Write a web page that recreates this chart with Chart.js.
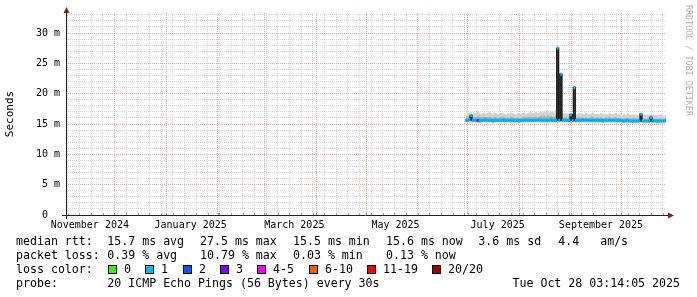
<!DOCTYPE html>
<html>
<head>
<meta charset="utf-8">
<script src="https://cdn.jsdelivr.net/npm/chart.js@4.4.1/dist/chart.umd.min.js"></script>
<style>
  html, body { margin: 0; padding: 0; background: #fff; }
</style>
</head>
<body>
<canvas id="smokeGraph" width="697" height="297"></canvas>
<script>
// x axis is in days, day 0 = 2 Nov 2024, graph covers 360 days up to 28 Oct 2025
const startDate = Date.UTC(2024, 10, 2);
const spanDays = 360;
const firstDay = 240; // first day with data (29 Jun 2025)

const xLabels = ['November 2024', 'January 2025', 'March 2025', 'May 2025', 'July 2025', 'September 2025'];
const xLabelDays = [14.3, 74.8, 137, 197.7, 259, 321];

const yMax = 33.3;

// median rtt in ms, one value per day from firstDay
const median = [
    15.6, 15.6, 15.7, 16.4, 15.6, 15.6, 15.6, 15.6, 15.5, 15.6,
    15.6, 15.6, 15.7, 15.6, 15.6, 15.6, 15.5, 15.6, 15.6, 15.6,
    15.6, 15.6, 15.6, 15.7, 15.6, 15.6, 15.6, 15.6, 15.6, 15.5,
    15.6, 15.6, 15.5, 15.6, 15.6, 15.6, 15.7, 15.6, 15.6, 15.6,
    15.6, 15.6, 15.6, 15.6, 15.7, 15.6, 15.6, 15.6, 15.6, 15.6,
    15.6, 15.7, 15.6, 15.6, 15.6, 27.5, 15.6, 23.2, 15.6, 15.6,
    15.6, 15.6, 15.6, 16.5, 15.6, 21.0, 15.6, 15.6, 15.6, 15.6,
    15.7, 15.6, 15.6, 15.6, 15.6, 15.6, 15.6, 15.6, 15.6, 15.6,
    15.6, 15.6, 15.5, 15.6, 15.6, 15.6, 15.6, 15.6, 15.6, 15.6,
    15.6, 15.6, 15.6, 15.6, 15.5, 15.5, 15.5, 15.6, 15.5, 15.5,
    15.5, 15.5, 15.5, 15.5, 15.5, 16.6, 15.5, 15.5, 15.5, 15.5,
    15.5, 16.1, 15.5, 15.5, 15.5, 15.5, 15.5, 15.5, 15.5, 15.5, 15.6
];

// smoke: outer upper edge, inner upper edge, lower edge (ms)
const smokeHi = [
    16.5, 16.9, 16.8, 17.0, 16.7, 16.9, 16.8, 17.2, 16.9, 16.7,
    16.8, 16.9, 16.7, 16.8, 17.0, 16.8, 16.7, 16.9, 16.8, 16.6,
    16.7, 16.8, 16.9, 16.7, 16.6, 16.8, 16.7, 16.9, 16.8, 16.7,
    16.6, 16.8, 16.7, 16.6, 16.8, 16.9, 16.7, 16.8, 16.9, 17.0,
    16.8, 16.9, 17.0, 16.8, 16.9, 17.1, 16.9, 17.2, 17.0, 17.3,
    16.9, 17.1, 17.0, 16.9, 17.4, 17.2, 16.9, 17.1, 16.8, 16.7,
    16.8, 16.7, 16.9, 16.8, 16.7, 16.8, 16.6, 16.7, 16.8, 16.6,
    16.7, 16.6, 16.8, 16.7, 16.6, 16.7, 16.9, 16.7, 16.6, 16.7,
    16.6, 16.8, 16.7, 16.6, 16.7, 16.6, 16.9, 16.7, 16.6, 16.7,
    16.8, 16.6, 16.7, 16.6, 16.5, 16.6, 16.5, 16.7, 16.6, 16.5,
    16.6, 16.5, 16.6, 16.5, 16.6, 16.8, 16.5, 16.6, 16.5, 16.6,
    16.5, 16.6, 16.5, 16.6, 16.5, 16.4, 16.5, 16.6, 16.5, 16.4, 16.5
];
const smokeMid = [
    16.0, 16.2, 16.1, 16.4, 16.1, 16.2, 16.1, 16.3, 16.2, 16.1,
    16.1, 16.2, 16.1, 16.1, 16.2, 16.1, 16.0, 16.2, 16.1, 16.0,
    16.1, 16.1, 16.2, 16.1, 16.0, 16.1, 16.0, 16.2, 16.1, 16.0,
    16.0, 16.1, 16.0, 16.0, 16.1, 16.2, 16.1, 16.1, 16.2, 16.2,
    16.1, 16.2, 16.2, 16.1, 16.2, 16.3, 16.2, 16.3, 16.2, 16.4,
    16.2, 16.3, 16.2, 16.2, 16.4, 16.3, 16.2, 16.3, 16.1, 16.1,
    16.1, 16.0, 16.2, 16.1, 16.0, 16.1, 16.0, 16.1, 16.1, 16.0,
    16.1, 16.0, 16.1, 16.0, 16.0, 16.1, 16.2, 16.0, 16.0, 16.1,
    16.0, 16.1, 16.0, 16.0, 16.1, 16.0, 16.2, 16.0, 16.0, 16.1,
    16.1, 16.0, 16.0, 15.9, 15.9, 16.0, 15.9, 16.0, 15.9, 15.9,
    16.0, 15.9, 15.9, 15.9, 16.0, 16.1, 15.9, 15.9, 15.9, 15.9,
    15.9, 16.0, 15.9, 15.9, 15.9, 15.8, 15.9, 15.9, 15.9, 15.8, 15.9
];
const smokeLo = [
    15.2, 15.2, 15.3, 15.2, 15.2, 15.3, 15.2, 15.2, 15.1, 15.2,
    15.2, 15.3, 15.2, 15.2, 15.2, 15.2, 15.1, 15.2, 15.2, 15.3,
    15.2, 15.2, 15.3, 15.2, 15.2, 15.2, 15.2, 15.1, 15.2, 15.2,
    15.2, 15.1, 15.0, 15.2, 15.2, 15.3, 15.2, 15.2, 15.2, 15.2,
    15.2, 15.2, 15.3, 15.2, 15.2, 15.2, 15.2, 15.2, 15.3, 15.2,
    15.2, 15.3, 15.2, 15.2, 15.2, 15.2, 15.2, 15.2, 15.2, 15.2,
    15.2, 15.2, 15.2, 15.2, 15.2, 15.2, 15.2, 15.2, 15.2, 15.3,
    15.3, 15.2, 15.2, 15.2, 15.2, 15.2, 15.2, 15.2, 15.2, 15.2,
    15.2, 15.2, 15.1, 15.2, 15.2, 15.2, 15.2, 15.2, 15.2, 15.2,
    15.2, 15.2, 15.2, 15.2, 15.1, 15.1, 15.1, 15.2, 15.1, 15.1,
    15.1, 15.1, 15.1, 15.1, 15.1, 15.2, 15.1, 15.1, 15.1, 15.1,
    15.1, 15.2, 15.1, 15.1, 15.1, 15.1, 15.1, 15.1, 15.1, 15.1, 15.2
];

// packet loss in % per day
const lossPct = [
    0.45, 0.30, 0.25, 0.60, 0.35, 0.20, 0.40, 10.79, 0.50, 0.30,
    0.25, 0.35, 0.40, 0.30, 0.20, 0.45, 0.30, 0.25, 0.35, 0.40,
    0.30, 0.55, 0.25, 0.35, 0.40, 0.30, 0.20, 0.45, 0.35, 0.30,
    0.25, 0.40, 0.60, 0.30, 0.35, 0.25, 0.40, 0.30, 0.45, 0.35,
    0.30, 0.25, 0.40, 0.35, 0.30, 0.50, 0.25, 0.40, 0.35, 0.45,
    0.30, 0.40, 0.35, 0.25, 0.50, 0.90, 0.30, 0.70, 0.35, 0.30,
    0.25, 0.30, 0.40, 0.45, 0.30, 0.65, 0.25, 0.35, 0.30, 0.40,
    0.35, 0.30, 0.25, 0.40, 0.30, 0.35, 0.45, 0.30, 0.25, 0.35,
    0.40, 0.30, 0.25, 0.35, 0.30, 0.40, 0.50, 0.30, 0.25, 0.35,
    0.30, 0.25, 0.35, 0.30, 0.20, 0.25, 0.30, 0.35, 0.25, 0.20,
    0.30, 0.25, 0.20, 0.30, 0.25, 0.45, 0.20, 0.25, 0.30, 0.20,
    0.25, 0.40, 0.20, 0.25, 0.30, 0.20, 0.15, 0.25, 0.20, 0.15, 0.13
];

const lossNames = ['0', '1', '2', '3', '4-5', '6-10', '11-19', '20/20'];
const lossColors = ['#26ff00', '#00b8ff', '#0059ff', '#7e00ff', '#ff00ff', '#ff5500', '#ff0000', '#a10000'];
const lossUpper = [0, 1, 2, 3, 5, 10, 19, 20]; // lost pings out of 20

const statsRtt = ['15.7 ms avg', '27.5 ms max', '15.5 ms min', '15.6 ms now', '3.6 ms sd', '4.4   am/s'];
const statsLoss = ['0.39 % avg', '10.79 % max', '0.03 % min', '0.13 % now'];
const probeText = '20 ICMP Echo Pings (56 Bytes) every 30s';
const stampText = 'Tue Oct 28 03:14:05 2025';

const minorGrid = 'rgba(200,200,200,0.7)';
const majorGrid = 'rgba(240,130,130,0.7)';
const mono = 'DejaVu Sans Mono';

function dayOf(y, m, d) {
    return (Date.UTC(y, m, d) - startDate) / 86400000;
}

function lossClass(p) {
    const lost = p / 100 * 20;
    for (let i = 0; i < lossUpper.length; i++) {
        if (lost <= lossUpper[i]) return i;
    }
    return lossUpper.length - 1;
}

const pts = arr => arr.map((v, i) => ({ x: firstDay + i, y: v }));

// month starts (major grid) and sundays (minor grid)
const monthDays = [];
for (let m = 10; ; m++) {
    const d = dayOf(2024, m, 1);
    if (d > spanDays) break;
    if (d >= 0) monthDays.push(d);
}
const xTicks = [];
for (let d = dayOf(2024, 10, 3); d <= spanDays; d += 7) {
    if (!monthDays.includes(d)) xTicks.push({ value: d, kind: 'minor' });
}
monthDays.forEach(d => xTicks.push({ value: d, kind: 'major' }));
xLabelDays.forEach((d, i) => xTicks.push({ value: d, kind: 'label', text: xLabels[i] }));
xTicks.sort((a, b) => a.value - b.value);

const rrdDecor = {
    id: 'rrdDecor',
    afterDraw(chart) {
        const ctx = chart.ctx;
        const a = chart.chartArea;
        const xs = chart.scales.x;
        ctx.save();

        // small tick marks at the bottom edge
        ctx.lineWidth = 1;
        xs.ticks.forEach(t => {
            if (t.kind === 'label') return;
            const px = Math.round(xs.getPixelForValue(t.value)) + 0.5;
            ctx.strokeStyle = t.kind === 'major' ? 'rgba(220,100,100,0.9)' : 'rgba(150,150,150,0.9)';
            ctx.beginPath();
            ctx.moveTo(px, a.bottom - 2);
            ctx.lineTo(px, a.bottom);
            ctx.stroke();
        });

        // axes
        ctx.strokeStyle = '#202020';
        ctx.beginPath();
        ctx.moveTo(a.left - 4, a.bottom + 0.5);
        ctx.lineTo(a.right + 3, a.bottom + 0.5);
        ctx.moveTo(a.left + 0.5, a.bottom + 4);
        ctx.lineTo(a.left + 0.5, a.top - 3);
        ctx.stroke();

        // arrows
        ctx.fillStyle = '#8b1c1c';
        ctx.beginPath();
        ctx.moveTo(a.left + 0.5, a.top - 6);
        ctx.lineTo(a.left - 2.5, a.top);
        ctx.lineTo(a.left + 3.5, a.top);
        ctx.closePath();
        ctx.fill();
        ctx.beginPath();
        ctx.moveTo(a.right + 8, a.bottom + 0.5);
        ctx.lineTo(a.right + 2, a.bottom - 2.5);
        ctx.lineTo(a.right + 2, a.bottom + 3.5);
        ctx.closePath();
        ctx.fill();

        // watermark
        ctx.save();
        ctx.translate(688, 5);
        ctx.rotate(Math.PI / 2);
        ctx.font = '8.4px "' + mono + '"';
        ctx.fillStyle = '#b4b4b4';
        ctx.textBaseline = 'middle';
        ctx.textAlign = 'left';
        ctx.fillText('RRDTOOL / TOBI OETIKER', 0, 0);
        ctx.restore();

        // legend rows
        ctx.font = '11.6px "' + mono + '"';
        ctx.fillStyle = '#000';
        ctx.textBaseline = 'alphabetic';
        ctx.textAlign = 'left';
        const cols = [107.3, 200, 293, 386, 478.3, 558.3];
        ctx.fillText('median rtt:', 16, 245);
        statsRtt.forEach((t, i) => ctx.fillText(t, cols[i], 245));
        ctx.fillText('packet loss:', 16, 259);
        statsLoss.forEach((t, i) => ctx.fillText(t, cols[i], 259));
        ctx.fillText('loss color:', 16, 273);
        let bx = 108;
        lossNames.forEach((n, i) => {
            const x = Math.round(bx);
            ctx.fillStyle = lossColors[i];
            ctx.fillRect(x, 265, 9, 9);
            ctx.strokeStyle = '#000';
            ctx.strokeRect(x + 0.5, 265.5, 8, 8);
            ctx.fillStyle = '#000';
            ctx.fillText(n, x + 16, 273);
            bx += 30.3 + 7 * n.length;
        });
        ctx.fillText('probe:', 16, 287);
        ctx.fillText(probeText, cols[0], 287);
        ctx.textAlign = 'right';
        ctx.fillText(stampText, 680, 287);
        ctx.restore();
    }
};

const config = {
    type: 'line',
    data: {
        datasets: [
            {
                type: 'bar',
                label: 'loss',
                data: median.map((v, i) => ({ x: firstDay + i, y: [v - 0.2, v + 0.2] })),
                backgroundColor: lossPct.map(p => lossColors[lossClass(p)]),
                borderWidth: 0,
                barPercentage: 1,
                categoryPercentage: 1,
                order: 0
            },
            {
                label: 'median',
                data: pts(median),
                borderColor: '#202020',
                borderWidth: 1.6,
                pointRadius: 0,
                stepped: 'middle',
                order: 1
            },
            {
                label: 'smoke inner',
                data: pts(smokeMid),
                borderWidth: 0,
                pointRadius: 0,
                stepped: 'middle',
                fill: { target: 1, above: '#ababab', below: 'rgba(0,0,0,0)' },
                order: 2
            },
            {
                label: 'smoke outer',
                data: pts(smokeHi),
                borderWidth: 0,
                pointRadius: 0,
                stepped: 'middle',
                fill: { target: 4, above: '#d2d2d2', below: 'rgba(0,0,0,0)' },
                order: 3
            },
            {
                label: 'smoke low',
                data: pts(smokeLo),
                borderWidth: 0,
                pointRadius: 0,
                stepped: 'middle',
                order: 4
            }
        ]
    },
    options: {
        responsive: false,
        animation: false,
        events: [],
        layout: { padding: { top: 13, right: 31, bottom: 62, left: 0 } },
        plugins: {
            legend: { display: false },
            tooltip: { enabled: false }
        },
        scales: {
            x: {
                type: 'linear',
                min: 0,
                max: spanDays,
                offset: false,
                afterBuildTicks: s => { s.ticks = xTicks.map(t => ({ ...t })); },
                afterFit: s => { s.height = 20; },
                grid: {
                    offset: false,
                    drawTicks: false,
                    color: c => c.tick.kind === 'major' ? majorGrid : (c.tick.kind === 'minor' ? minorGrid : 'rgba(0,0,0,0)')
                },
                border: { display: false, dash: [1, 1] },
                ticks: {
                    autoSkip: false,
                    maxRotation: 0,
                    padding: 4,
                    color: '#000',
                    font: { family: mono, size: 10 },
                    callback: (v, i, ticks) => ticks[i].kind === 'label' ? ticks[i].text : ''
                }
            },
            y: {
                type: 'linear',
                min: 0,
                max: yMax,
                afterBuildTicks: s => {
                    s.ticks = [];
                    for (let v = 0; v <= Math.floor(yMax); v++) s.ticks.push({ value: v });
                },
                afterFit: s => { s.width = 66; },
                grid: {
                    drawTicks: false,
                    color: c => c.tick.value === 0 ? 'rgba(0,0,0,0)' : (c.tick.value % 5 === 0 ? majorGrid : minorGrid)
                },
                border: { display: false, dash: [1, 1] },
                ticks: {
                    autoSkip: false,
                    padding: 6,
                    color: '#000',
                    font: { family: mono, size: 10 },
                    callback: v => v % 5 ? '' : (v === 0 ? '0  ' : v + ' m')
                },
                title: {
                    display: true,
                    text: 'Seconds',
                    color: '#000',
                    font: { family: mono, size: 11 },
                    padding: { top: 4, bottom: 0 }
                }
            }
        }
    },
    plugins: [rrdDecor]
};

const smokeChart = new Chart(document.getElementById('smokeGraph'), config);
</script>
</body>
</html>
